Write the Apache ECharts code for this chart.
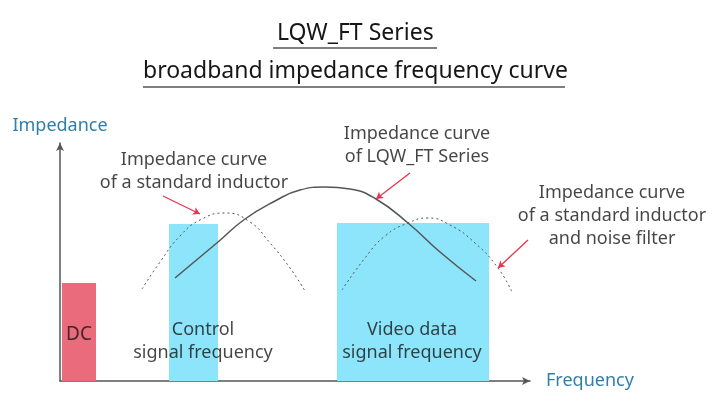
<!DOCTYPE html>
<html>
<head>
<meta charset="utf-8">
<script src="https://cdn.jsdelivr.net/npm/echarts@6/dist/echarts.min.js"></script>
<style>
  html, body { margin: 0; padding: 0; background: #fff; }
  #chart { width: 725px; height: 412px; }
</style>
</head>
<body>
<div id="chart"></div>
<script>
// frequency / impedance in arbitrary units (schematic chart)
var lqwX = [115, 158, 185, 215, 240, 265, 290, 316, 348, 380, 416];
var lqwY = [103, 139, 162, 180, 191, 194, 192, 182, 158, 129, 100];

var stdX = [82, 100, 120, 140, 165, 190, 210, 230, 245];
var stdY = [92, 119, 145, 161, 168, 159, 138, 113, 90];

var filtX = [282, 305, 325, 348, 368, 390, 415, 438, 452];
var filtY = [91, 123, 145, 158, 163, 156, 138, 113, 89];

// frequency bands: [from, to, height]
var bandNames = ['DC', 'Control\nsignal frequency', 'Video data\nsignal frequency'];
var bandRanges = [[2, 36, 98], [109, 158, 157], [277, 429, 158]];
var bandLabelPos = [[19, 46], [143, 40], [352, 40]];

var notes = [
    'Impedance curve\nof a standard inductor',
    'Impedance curve\nof LQW_FT Series',
    'Impedance curve\nof a standard inductor\nand noise filter'
];
var notePos = [[134, 210], [357, 236], [552, 165]];
// arrows from note to curve
var arrows = [
    [[103, 185], [140, 167]],
    [[350, 208], [316, 182]],
    [[468, 141], [438, 113]]
];

function pairs(xs, ys) {
    return xs.map(function (x, i) { return [x, ys[i]]; });
}

var FONT = '"Noto Sans", "Open Sans", sans-serif';
var TXT = '#161616';
var BLUE = '#2f7fab';
var bandColors = ['#ea6b7b', '#8de5fb', '#8de5fb'];

var chart = echarts.init(document.getElementById('chart'));
chart.setOption({
    animation: false,
    textStyle: {fontFamily: FONT},
    title: [{
        text: 'LQW_FT Series',
        left: 272,
        top: 17,
        textStyle: {fontSize: 23, fontWeight: 'normal', color: TXT, fontFamily: FONT}
    }, {
        text: 'broadband impedance frequency curve',
        left: 138,
        top: 55,
        textStyle: {fontSize: 23, fontWeight: 'normal', color: TXT, fontFamily: FONT}
    }],
    graphic: [ // title underlines
        {type: 'line', shape: {x1: 273, y1: 48, x2: 437, y2: 48}, style: {stroke: '#555', lineWidth: 1.5}},
        {type: 'line', shape: {x1: 143, y1: 87, x2: 565, y2: 87}, style: {stroke: '#555', lineWidth: 1.5}}
    ],
    grid: {left: 60, top: 143, width: 470, height: 238},
    xAxis: {
        type: 'value',
        min: 0,
        max: 470,
        name: 'Frequency',
        nameLocation: 'end',
        nameGap: 16,
        nameTextStyle: {color: BLUE, fontSize: 18, fontFamily: FONT, align: 'left', verticalAlign: 'middle'},
        axisLine: {show: true, symbol: ['none', 'arrow'], symbolSize: [6, 8], lineStyle: {color: '#555', width: 1.5}},
        axisTick: {show: false},
        axisLabel: {show: false},
        splitLine: {show: false}
    },
    yAxis: {
        type: 'value',
        min: 0,
        max: 238,
        name: 'Impedance',
        nameLocation: 'end',
        nameGap: 8,
        nameTextStyle: {color: BLUE, fontSize: 18, fontFamily: FONT, align: 'center'},
        axisLine: {show: true, symbol: ['none', 'arrow'], symbolSize: [6, 8], lineStyle: {color: '#555', width: 1.5}},
        axisTick: {show: false},
        axisLabel: {show: false},
        splitLine: {show: false}
    },
    series: [{
        name: 'bands',
        type: 'scatter',
        clip: false,
        symbolSize: 0,
        z: 1,
        data: bandLabelPos.map(function (p, i) {
            return {value: p, label: {formatter: bandNames[i], fontSize: i === 0 ? 19 : 18}};
        }),
        label: {show: true, position: 'inside', color: TXT, fontFamily: FONT, lineHeight: 23, align: 'center'},
        markArea: {
            silent: true,
            data: bandRanges.map(function (b, i) {
                return [
                    {xAxis: b[0], yAxis: 0, itemStyle: {color: bandColors[i], opacity: 1}},
                    {xAxis: b[1], yAxis: b[2]}
                ];
            })
        }
    }, {
        name: 'standard inductor',
        type: 'line',
        smooth: 0.5,
        symbol: 'none',
        z: 3,
        lineStyle: {color: '#555', width: 1, type: [2, 3]},
        data: pairs(stdX, stdY)
    }, {
        name: 'standard inductor and noise filter',
        type: 'line',
        smooth: 0.5,
        symbol: 'none',
        z: 3,
        lineStyle: {color: '#555', width: 1, type: [2, 3]},
        data: pairs(filtX, filtY)
    }, {
        name: 'LQW_FT Series',
        type: 'line',
        smooth: 0.5,
        symbol: 'none',
        z: 4,
        lineStyle: {color: '#555', width: 1.5},
        data: pairs(lqwX, lqwY)
    }, {
        name: 'notes',
        type: 'scatter',
        clip: false,
        symbolSize: 0,
        z: 5,
        data: notePos.map(function (p, i) {
            return {value: p, label: {formatter: notes[i]}};
        }),
        label: {show: true, position: 'inside', color: TXT, fontSize: 18, fontFamily: FONT, lineHeight: 23, align: 'center'},
        markLine: {
            silent: true,
            symbol: ['none', 'arrow'],
            symbolSize: [6, 7],
            label: {show: false},
            lineStyle: {color: '#e8344e', width: 1.3, type: 'solid'},
            data: arrows.map(function (a) {
                return [{coord: a[0]}, {coord: a[1]}];
            })
        }
    }]
});
</script>
</body>
</html>
